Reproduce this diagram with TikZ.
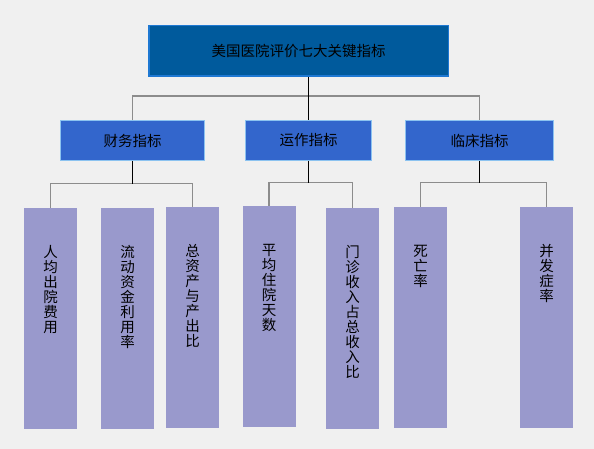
\documentclass[tikz,border=0pt]{standalone}
\usepackage{fontspec}
\newfontfamily\cjk{Noto Sans CJK SC}
\definecolor{canvas}{HTML}{F0F0F0}
\definecolor{navy}{HTML}{005A9C}
\definecolor{navyedge}{HTML}{1E78D2}
\definecolor{royal}{HTML}{3366CC}
\definecolor{royaledge}{HTML}{8CC3F0}
\definecolor{lilac}{HTML}{9999CC}
\definecolor{wire}{HTML}{8C8C8C}
\usepackage{tikz}
\newcommand\colstack[1]{\parbox[t]{2em}{\centering\lineskiplimit=-10pt #1}}

\begin{document}
\begin{tikzpicture}[x=1pt,y=-1pt,every node/.style={font=\cjk\fontsize{14.5}{15}\selectfont,text=black},
  head/.style={draw=navyedge,line width=1.5pt,fill=navy,minimum width=299.5,minimum height=50.5,inner sep=0pt},
  group/.style={draw=royaledge,line width=0.8pt,fill=royal,minimum height=40,inner sep=0pt},
  leaf/.style={fill=lilac,minimum width=53,inner sep=0pt,text height=49,text depth=172},
  stem/.style={black,line width=0.8pt},
  bar/.style={wire,line width=1.2pt}]
\fill[canvas] (0,0) rectangle (594,449);
\node[head] (A) at (298.5,51) {美国医院评价七大关键指标};
\node[group,minimum width=144] (B) at (132.5,140.5) {财务指标};
\node[group,minimum width=126] (C) at (308.5,140.5) {运作指标};
\node[group,minimum width=148] (D) at (479.5,140.5) {临床指标};
\node[leaf] (E) at (50.5,318.5) {\colstack{人\\均\\出\\院\\费\\用}};
\node[leaf] (F) at (127.5,318.5) {\colstack{流\\动\\资\\金\\利\\用\\率}};
\node[leaf] (G) at (192.5,317.5) {\colstack{总\\资\\产\\与\\产\\出\\比}};
\node[leaf] (H) at (269,316.5) {\colstack{平\\均\\住\\院\\天\\数}};
\node[leaf] (I) at (352.5,318.5) {\colstack{门\\诊\\收\\入\\占\\总\\收\\入\\比}};
\node[leaf] (J) at (420.5,317.5) {\colstack{死\\亡\\率}};
\node[leaf] (K) at (546.5,317.5) {\colstack{并\\发\\症\\率}};
\path (A.south -| C.north) ++(0,19) coordinate (ja);
\path (B.south) ++(0,23) coordinate (jb);
\path (C.south) ++(0,22) coordinate (jc);
\path (D.south) ++(0,22) coordinate (jd);
\draw[bar] (B.north) |- (ja) -| (D.north);
\draw[bar] (E.north) |- (jb) -| (G.north);
\draw[bar] (H.north) |- (jc) -| (I.north);
\draw[bar] (J.north) |- (jd) -| (K.north);
\draw[stem] (A.south -| C.north) -- (C.north);
\draw[stem] (B.south) -- (jb);
\draw[stem] (C.south) -- (jc);
\draw[stem] (D.south) -- (jd);
\end{tikzpicture}
\end{document}
